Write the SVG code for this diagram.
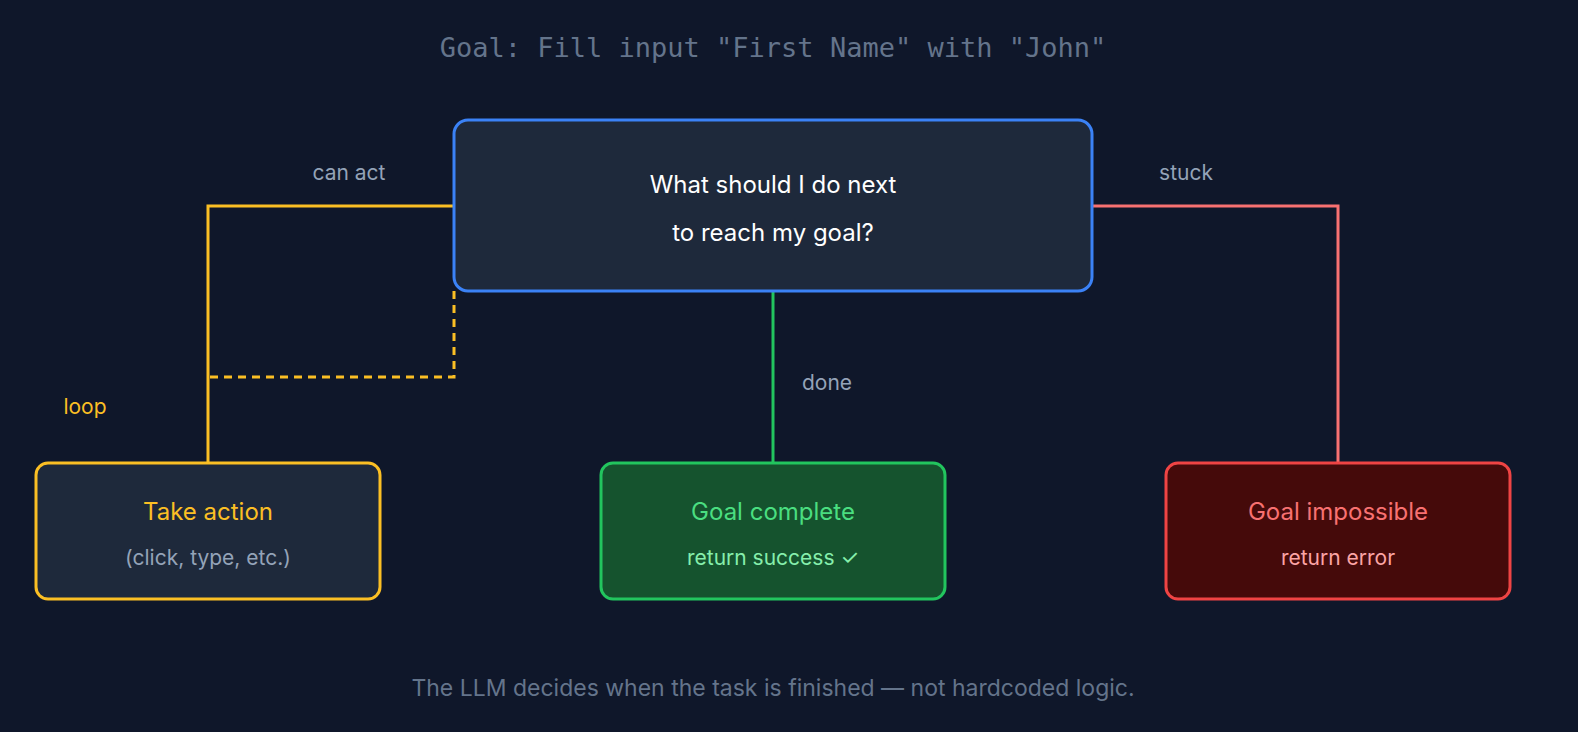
<svg xmlns="http://www.w3.org/2000/svg" width="1578" height="732" viewBox="0 0 1578 732">
<style>
.sans{font-family:Inter,"Noto Sans","Liberation Sans",sans-serif}
.lbl{font-size:21px;fill:#94a3b8;text-anchor:middle}
.box{stroke-width:3}
.t{font-size:24px;text-anchor:middle}
.s{font-size:21px;text-anchor:middle}
</style>
<rect width="1578" height="732" fill="#0f172a"/>
<text x="773" y="57" text-anchor="middle" font-family="'DejaVu Sans Mono','Liberation Mono',monospace" font-size="27" fill="#64748b">Goal: Fill input "First Name" with "John"</text>
<g id="connectors" fill="none" stroke-width="3">
<polyline points="454,206 208,206 208,463" stroke="#fbbf24"/>
<polyline points="454,291 454,377 208,377" stroke="#fbbf24" stroke-dasharray="8,6"/>
<line x1="773" y1="291" x2="773" y2="463" stroke="#22c55e"/>
<polyline points="1092,206 1338,206 1338,463" stroke="#f87171"/>
</g>
<g class="sans">
<text x="349" y="180" class="lbl">can act</text>
<text x="1186" y="180" class="lbl">stuck</text>
<text x="827" y="390" class="lbl">done</text>
<text x="85" y="414" class="lbl" fill="#fbbf24" style="fill:#fbbf24">loop</text>
</g>
<g id="decide" class="sans">
<rect x="454" y="120" width="638" height="171" rx="14" fill="#1e293b" stroke="#3b82f6" class="box"/>
<text x="773" y="193" class="t" fill="#ffffff">What should I do next</text>
<text x="773" y="241" class="t" fill="#ffffff">to reach my goal?</text>
</g>
<g id="action" class="sans">
<rect x="36" y="463" width="344" height="136" rx="12" fill="#1e293b" stroke="#fbbf24" class="box"/>
<text x="208" y="520" class="t" fill="#fbbf24">Take action</text>
<text x="208" y="565" class="s" fill="#94a3b8">(click, type, etc.)</text>
</g>
<g id="complete" class="sans">
<rect x="601" y="463" width="344" height="136" rx="12" fill="#15532e" stroke="#22c55e" class="box"/>
<text x="773" y="520" class="t" fill="#4ade80">Goal complete</text>
<text x="773" y="565" class="s" fill="#86efac">return success ✓</text>
</g>
<g id="impossible" class="sans">
<rect x="1166" y="463" width="344" height="136" rx="12" fill="#450a0a" stroke="#ef4444" class="box"/>
<text x="1338" y="520" class="t" fill="#f87171">Goal impossible</text>
<text x="1338" y="565" class="s" fill="#fca5a5">return error</text>
</g>
<text x="773" y="696" text-anchor="middle" class="sans" font-size="23" fill="#64748b">The LLM decides when the task is finished — not hardcoded logic.</text>
</svg>
